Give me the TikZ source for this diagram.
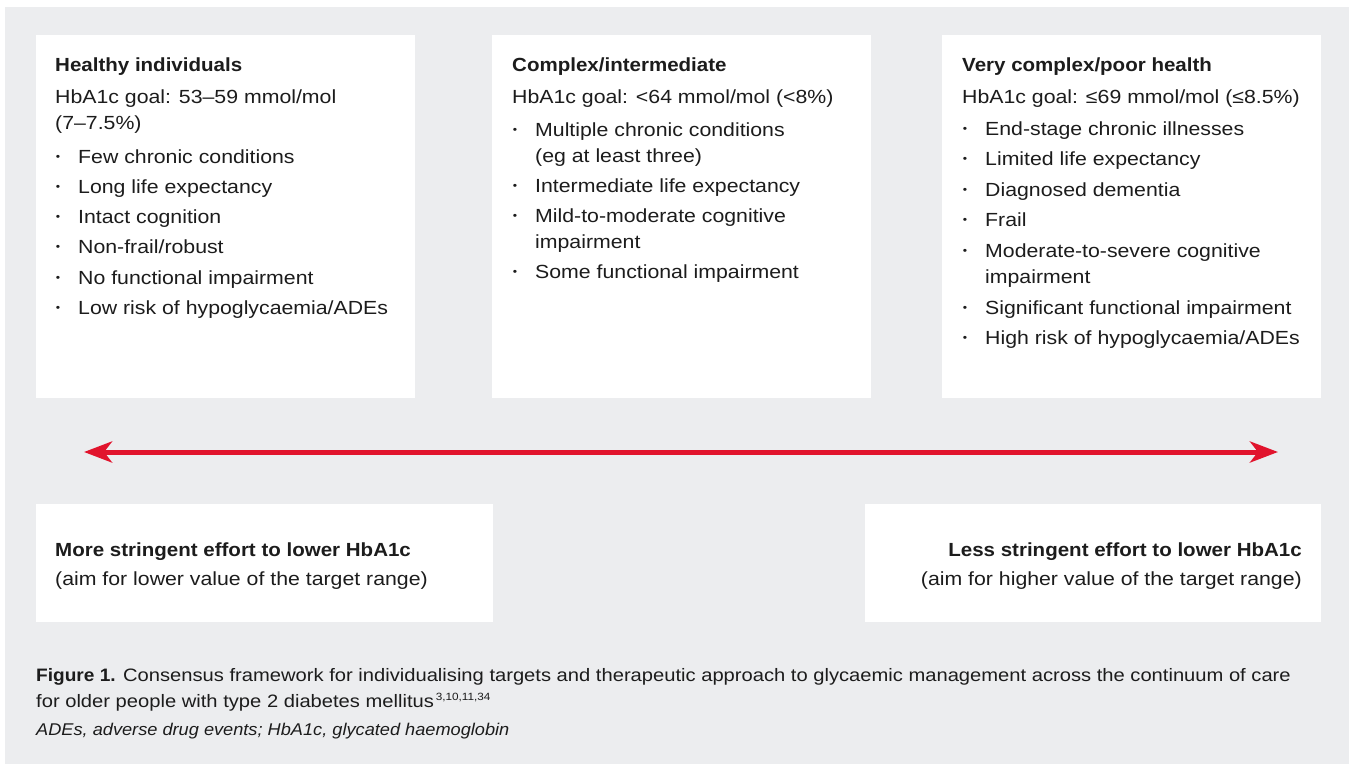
\documentclass[tikz,border=0pt]{standalone}
\usepackage{fontspec}
\setmainfont{Liberation Sans}[FakeStretch=1.12, BoldFeatures={FakeStretch=1.08}]
\newfontfamily\capfont{Liberation Sans}[FakeStretch=1.12, BoldFeatures={FakeStretch=1.06}]
\newfontfamily\notefont{Liberation Sans}[FakeStretch=1.07]
\usetikzlibrary{arrows.meta}

\definecolor{panelgray}{RGB}{236,237,239}
\definecolor{ink}{RGB}{28,28,28}
\definecolor{arrowred}{RGB}{225,20,45}

\tikzset{
  panel/.style={fill=white, draw=none, anchor=north west, inner sep=0pt},
  txt/.style={anchor=base west, inner sep=0pt, text=ink, font=\fontsize{19}{23}\selectfont},
  rtxt/.style={txt, anchor=base east},
  headtxt/.style={txt, font=\fontsize{19}{23}\selectfont\bfseries},
  rheadtxt/.style={headtxt, anchor=base east},
  bulletdot/.style={anchor=center, inner sep=0pt, text=ink, font=\fontsize{11}{13}\selectfont},
  captxt/.style={anchor=base west, inner sep=0pt, text=ink, font=\capfont\fontsize{18}{22}\selectfont},
  notetxt/.style={captxt, font=\notefont\fontsize{17}{21}\selectfont\itshape},
  continuum/.style={draw=arrowred, line width=5pt,
    {Stealth[length=28pt, width=21pt, inset=8pt]}-{Stealth[length=28pt, width=21pt, inset=8pt]}}
}

% bulleted line: name, bullet x, baseline y, text
\newcommand\bitem[4]{%
  \node[bulletdot] (#1d) at (#2,#3-5.5) {\textbullet};
  \node[txt] (#1) at (#2+20,#3) {#4};}
% reference numbers after the caption
\newcommand\refnums[1]{\raisebox{7pt}{\fontsize{10.5}{11}\selectfont\,#1}}

\begin{document}
\begin{tikzpicture}[x=1pt, y=-1pt]
  \useasboundingbox (0,0) rectangle (1349,764);
  \fill[panelgray] (5,7) rectangle (1349,764);

  % category panels
  \node[panel, minimum width=379pt, minimum height=363pt] (p1) at (36,35) {};
  \node[panel, minimum width=379pt, minimum height=363pt] (p2) at (492,35) {};
  \node[panel, minimum width=379pt, minimum height=363pt] (p3) at (942,35) {};

  % effort panels
  \node[panel, minimum width=457pt, minimum height=118pt] (e1) at (36,504) {};
  \node[panel, minimum width=456pt, minimum height=118pt] (e2) at (865,504) {};

  % healthy individuals
  \node[headtxt] (t1) at (55,71) {Healthy individuals};
  \node[txt] (g1) at (55,103) {HbA1c goal: 53–59 mmol/mol};
  \node[txt] (g1b) at (55,129) {(7–7.5\%)};
  \bitem{a1}{58}{163}{Few chronic conditions}
  \bitem{a2}{58}{193}{Long life expectancy}
  \bitem{a3}{58}{223}{Intact cognition}
  \bitem{a4}{58}{253}{Non-frail/robust}
  \bitem{a5}{58}{284}{No functional impairment}
  \bitem{a6}{58}{314}{Low risk of hypoglycaemia/ADEs}

  % complex / intermediate
  \node[headtxt] (t2) at (512,71) {Complex/intermediate};
  \node[txt] (g2) at (512,103) {HbA1c goal: <64 mmol/mol (<8\%)};
  \bitem{b1}{515}{136}{Multiple chronic conditions}
  \node[txt] (b1b) at (535,162) {(eg at least three)};
  \bitem{b2}{515}{192}{Intermediate life expectancy}
  \bitem{b3}{515}{222}{Mild-to-moderate cognitive}
  \node[txt] (b3b) at (535,248) {impairment};
  \bitem{b4}{515}{278}{Some functional impairment}

  % very complex / poor health
  \node[headtxt] (t3) at (962,71) {Very complex/poor health};
  \node[txt] (g3) at (962,103) {HbA1c goal: ≤69 mmol/mol (≤8.5\%)};
  \bitem{c1}{965}{135}{End-stage chronic illnesses}
  \bitem{c2}{965}{165}{Limited life expectancy}
  \bitem{c3}{965}{196}{Diagnosed dementia}
  \bitem{c4}{965}{226}{Frail}
  \bitem{c5}{965}{257}{Moderate-to-severe cognitive}
  \node[txt] (c5b) at (985,283) {impairment};
  \bitem{c6}{965}{314}{Significant functional impairment}
  \bitem{c7}{965}{344}{High risk of hypoglycaemia/ADEs}

  % continuum arrow
  \coordinate (arrL) at (84,452);
  \coordinate (arrR) at (1278,452);
  \draw[continuum] (arrL) -- (arrR);

  % effort labels
  \node[headtxt] (m1) at (55,556) {More stringent effort to lower HbA1c};
  \node[txt] (m2) at (55,585) {(aim for lower value of the target range)};
  \node[rheadtxt] (l1) at (1302,556) {Less stringent effort to lower HbA1c};
  \node[rtxt] (l2) at (1302,585) {(aim for higher value of the target range)};

  % caption
  \node[captxt] (cap1) at (36,681) {\textbf{Figure 1.} Consensus framework for individualising targets and therapeutic approach to glycaemic management across the continuum of care};
  \node[captxt] (cap2) at (36,707) {for older people with type 2 diabetes mellitus\refnums{3,10,11,34}};
  \node[notetxt] (cap3) at (36,735) {ADEs, adverse drug events; HbA1c, glycated haemoglobin};
\end{tikzpicture}
\end{document}
